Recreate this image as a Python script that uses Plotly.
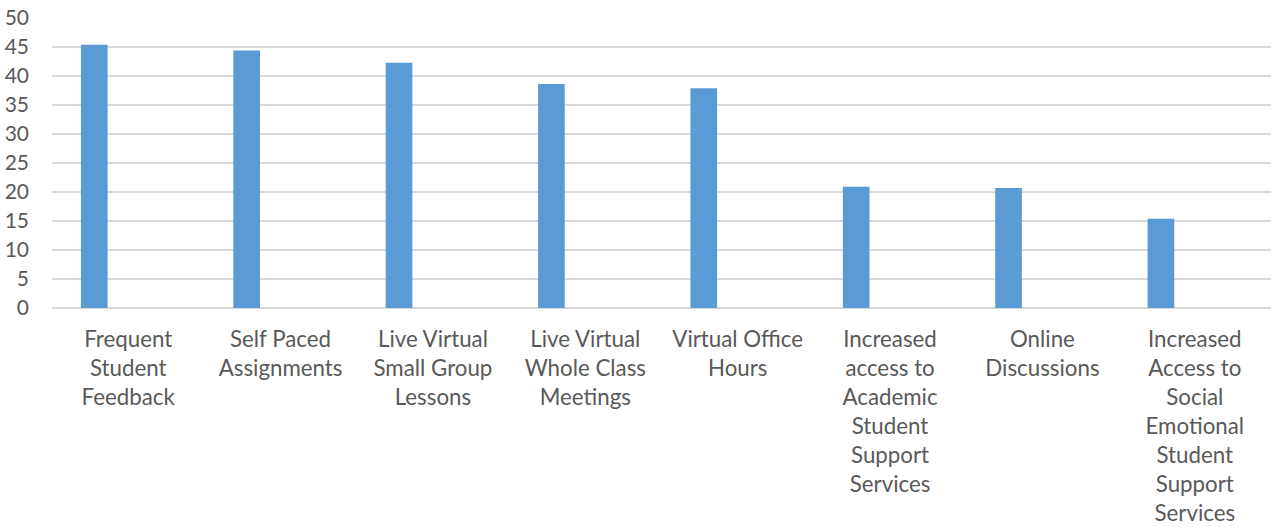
import plotly.graph_objects as go

categories = [
    "Frequent<br>Student<br>Feedback",
    "Self Paced<br>Assignments",
    "Live Virtual<br>Small Group<br>Lessons",
    "Live Virtual<br>Whole Class<br>Meetings",
    "Virtual Office<br>Hours",
    "Increased<br>access to<br>Academic<br>Student<br>Support<br>Services",
    "Online<br>Discussions",
    "Increased<br>Access to<br>Social<br>Emotional<br>Student<br>Support<br>Services",
]
values = [45.4, 44.4, 42.3, 38.6, 37.9, 20.9, 20.7, 15.4]
y_ticks = [0, 5, 10, 15, 20, 25, 30, 35, 40, 45, 50]

positions = list(range(len(categories)))

fig = go.Figure()
fig.add_trace(go.Bar(
    x=positions,
    y=values,
    width=0.175,
    offset=-0.31,
    marker=dict(color="#5b9bd5", line=dict(width=0)),
))

font_family = "Lato, 'Open Sans', sans-serif"
fig.update_layout(
    width=1281,
    height=527,
    margin=dict(l=52, r=10, t=18, b=219, autoexpand=False),
    plot_bgcolor="white",
    paper_bgcolor="white",
    showlegend=False,
    font=dict(family=font_family, size=22, color="#595959"),
    xaxis=dict(
        tickmode="array",
        tickvals=positions,
        ticktext=categories,
        range=[-0.5, len(categories) - 0.5],
        showgrid=False,
        zeroline=False,
        showline=False,
        ticks="",
        automargin=False,
        ticklabelstandoff=16,
        tickfont=dict(size=22.3, color="#595959"),
    ),
    yaxis=dict(
        range=[0, 50],
        tickmode="array",
        tickvals=y_ticks,
        showgrid=True,
        gridcolor="#d9d9d9",
        gridwidth=1.5,
        zeroline=True,
        zerolinecolor="#d9d9d9",
        zerolinewidth=1.5,
        showline=False,
        ticks="",
        automargin=False,
        ticklabeloverflow="allow",
        ticklabelstandoff=22,
        tickfont=dict(size=21, color="#595959"),
    ),
)

fig.write_html(
    "out.html",
    config={"displayModeBar": False},
    post_script="document.body.style.margin='0';",
)
